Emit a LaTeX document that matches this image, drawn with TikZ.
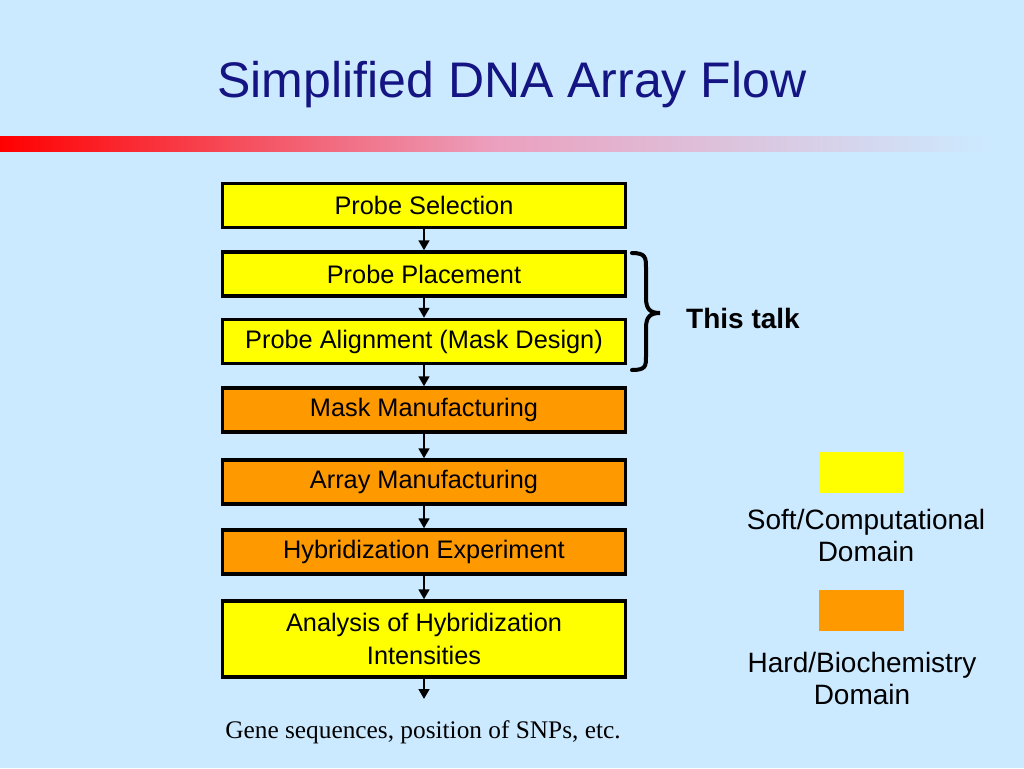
\documentclass[tikz,border=0pt]{standalone}
\usepackage{fontspec}
\setmainfont{Liberation Serif}
\setsansfont{Liberation Sans}
\usetikzlibrary{arrows.meta}
\definecolor{bgblue}{RGB}{204,234,255}
\definecolor{titleblue}{RGB}{20,20,130}
\definecolor{softyellow}{RGB}{255,255,0}
\definecolor{hardorange}{RGB}{255,153,0}
\tikzset{
  stage/.style={draw=black, line width=2.5pt, minimum width=302pt, minimum height=33pt,
    inner sep=0pt, align=center, font=\sffamily\fontsize{19}{23}\selectfont},
  soft/.style={stage, fill=softyellow},
  hard/.style={stage, fill=hardorange},
  flow/.style={-{Triangle[length=7.5pt,width=8pt]}, line width=2pt},
  legendtext/.style={align=center, font=\sffamily\fontsize{21}{24}\selectfont}
}
\begin{document}
\begin{tikzpicture}[x=0.75pt, y=-0.75pt]
\fill[bgblue] (0,0) rectangle (1024,768);
\useasboundingbox (0,0) rectangle (1024,768);
% title and bar
\node[anchor=base, text=titleblue, font=\sffamily\fontsize{37.5}{44}\selectfont] (title) at (512,97) {Simplified DNA Array Flow};
\shade[left color=red, right color=bgblue, middle color={rgb,255:red,235;green,160;blue,190}] (0,136) rectangle (990,151);
% stages
\node[soft] (sel) at (424,205.5) {Probe Selection};
\node[soft] (plc) at (424,274) {Probe Placement};
\node[soft] (aln) at (424,341.5) {Probe Alignment (Mask Design)};
\node[hard] (mask) at (424,410) {Mask Manufacturing};
\node[hard] (arr) at (424,482) {Array Manufacturing};
\node[hard] (hyb) at (424,552) {Hybridization Experiment};
\node[soft, minimum height=57pt] (ana) at (424,639) {Analysis of Hybridization\\[2pt]Intensities};
\coordinate (out) at (424,699);
\draw[flow] (sel) -- (plc);
\draw[flow] (plc) -- (aln);
\draw[flow] (aln) -- (mask);
\draw[flow] (mask) -- (arr);
\draw[flow] (arr) -- (hyb);
\draw[flow] (hyb) -- (ana);
\draw[flow] (ana) -- (out);
\node[font=\fontsize{19}{23}\selectfont] (genes) at (423,732) {Gene sequences, position of SNPs, etc.};
% brace
\draw[line width=3pt, line cap=round] (632,253) .. controls (646,253) and (646,258) .. (646,268) -- (646,298)
  .. controls (646,309) and (650,313) .. (660,313) .. controls (650,313) and (646,317) .. (646,328)
  -- (646,356) .. controls (646,366) and (646,370) .. (632,370);
\node[font=\sffamily\bfseries\fontsize{21}{24}\selectfont] (talk) at (743,318) {This talk};
% legend
\node[fill=softyellow, minimum width=64pt, minimum height=31pt, inner sep=0pt] (softkey) at (861.5,472.5) {};
\node[legendtext] (softlbl) at (866,535) {Soft/Computational\\Domain};
\node[fill=hardorange, minimum width=64pt, minimum height=31pt, inner sep=0pt] (hardkey) at (861.5,610.5) {};
\node[legendtext] (hardlbl) at (862,678) {Hard/Biochemistry\\Domain};
\end{tikzpicture}
\end{document}
